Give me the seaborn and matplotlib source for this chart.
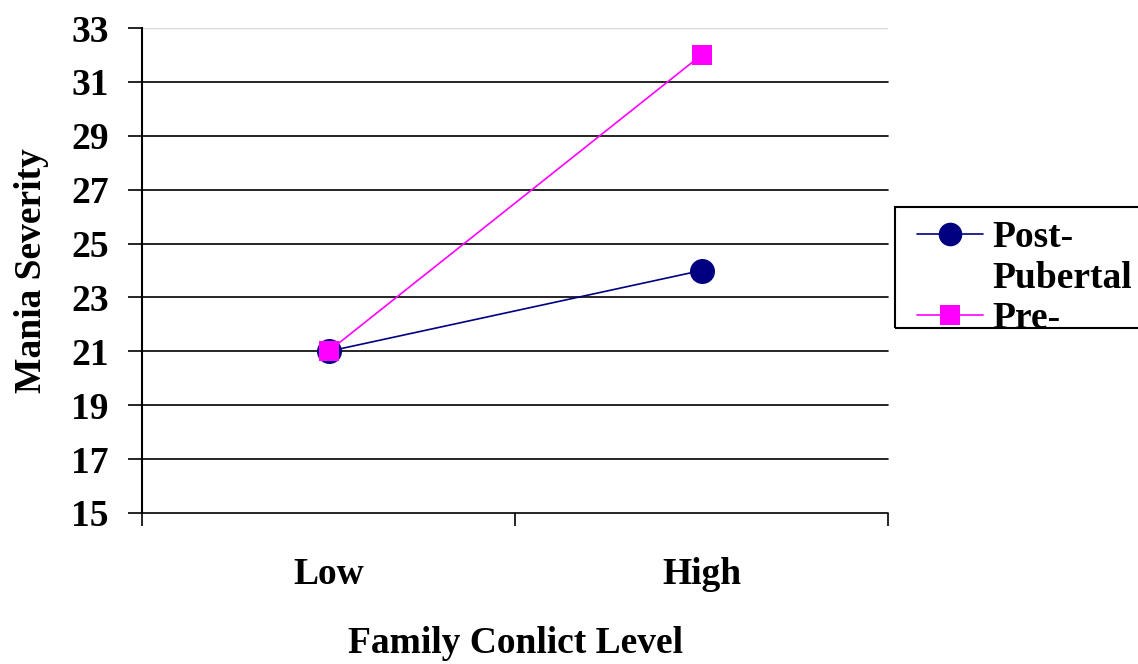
import pandas as pd
import matplotlib
matplotlib.use("Agg")
import matplotlib.pyplot as plt
from matplotlib.lines import Line2D
from matplotlib.patches import Rectangle
import seaborn as sns

CONFLICT_LEVELS = ["Low", "High"]
GROUPS = ["Post-Pubertal", "Pre-Pubertal"]
POST_PUBERTAL = [21, 24]
PRE_PUBERTAL = [21, 32]
Y_TICKS = [15, 17, 19, 21, 23, 25, 27, 29, 31, 33]

COLORS = {"Post-Pubertal": "#000080", "Pre-Pubertal": "#FF00FF"}
FS = 27


def build_frame():
    rows = []
    for lvl, post, pre in zip(CONFLICT_LEVELS, POST_PUBERTAL, PRE_PUBERTAL):
        rows.append({"Level": lvl, "Group": "Post-Pubertal", "Severity": post})
        rows.append({"Level": lvl, "Group": "Pre-Pubertal", "Severity": pre})
    return pd.DataFrame(rows)


def plot_chart(df):
    sns.set_theme(style="white")
    plt.rcParams["font.family"] = ["Liberation Serif", "DejaVu Serif"]
    plt.rcParams["font.weight"] = "bold"
    for key in ["text.color", "axes.labelcolor", "xtick.color", "ytick.color"]:
        plt.rcParams[key] = "black"

    fig = plt.figure(figsize=(11.38, 6.64), dpi=100)
    ax = fig.add_axes([142 / 1138, 1 - 513 / 664, 746 / 1138, 485 / 664])

    sns.pointplot(
        data=df, x="Level", y="Severity", hue="Group",
        order=CONFLICT_LEVELS, hue_order=GROUPS,
        palette=COLORS, markers=["o", "s"], linestyles=["-", "-"],
        errorbar=None, ax=ax, legend=False,
    )
    sizes = {0: 18, 1: 14}
    for i, line in enumerate(ax.lines[:2]):
        line.set_markersize(sizes[i])
        line.set_linewidth(1.2)
        line.set_markeredgewidth(0)
        line.set_zorder(5 + i)

    ax.set_xlim(-0.5, 1.5)
    ax.set_ylim(15, 33)
    ax.set_yticks(Y_TICKS)
    for y in Y_TICKS[:-1]:
        ax.axhline(y, color="black", lw=1.2, zorder=1, clip_on=False)
    ax.axhline(33, color="#d9d9d9", lw=1.0, zorder=1)

    ax.set_xticks([0, 1])
    ax.set_xticks([-0.5, 0.5, 1.5], minor=True)
    ax.tick_params(axis="x", which="major", length=0, pad=32, labelsize=FS)
    ax.tick_params(axis="x", which="minor", bottom=True, length=9, width=1.2,
                   color="black", direction="out")
    ax.tick_params(axis="y", length=10, width=1.2, color="black", direction="out",
                   pad=14, labelsize=FS, left=True)
    for lbl in ax.get_xticklabels() + ax.get_yticklabels():
        lbl.set_fontweight("bold")
        lbl.set_color("black")

    for side in ["top", "right", "bottom"]:
        ax.spines[side].set_visible(False)
    ax.spines["left"].set_color("black")
    ax.spines["left"].set_linewidth(1.5)

    ax.set_xlabel("Family Conlict Level", fontsize=FS, fontweight="bold", labelpad=24)
    ax.set_ylabel("Mania Severity", fontsize=FS, fontweight="bold", labelpad=16)

    # legend box, clipped like the original
    box = Rectangle((895 / 1138, 1 - 328 / 664), 250 / 1138, 121 / 664,
                    transform=fig.transFigure, fill=False, edgecolor="black", lw=1.5)
    fig.patches.append(box)
    handles = [
        Line2D([], [], color=COLORS["Post-Pubertal"], marker="o", markersize=17,
               lw=1.2, markeredgewidth=0),
        Line2D([], [], color="none", lw=0),
        Line2D([], [], color=COLORS["Pre-Pubertal"], marker="s", markersize=14,
               lw=1.2, markeredgewidth=0),
    ]
    leg = fig.legend(handles, ["Post-", "Pubertal", "Pre-"],
                     loc="upper left", bbox_to_anchor=(917 / 1138, 1 - 220 / 664),
                     frameon=False, fontsize=FS, handlelength=1.75, handletextpad=0.27,
                     labelspacing=0.15, borderaxespad=0, borderpad=0)
    for t in leg.get_texts():
        t.set_fontweight("bold")
        t.set_color("black")
    clip = Rectangle((895 / 1138, 1 - 328 / 664), 250 / 1138, 121 / 664,
                     transform=fig.transFigure)
    for art in leg.get_texts() + leg.legend_handles:
        art.set_clip_path(clip)

    fig.savefig("out.png", dpi=100)


if __name__ == "__main__":
    df = build_frame()
    plot_chart(df)
